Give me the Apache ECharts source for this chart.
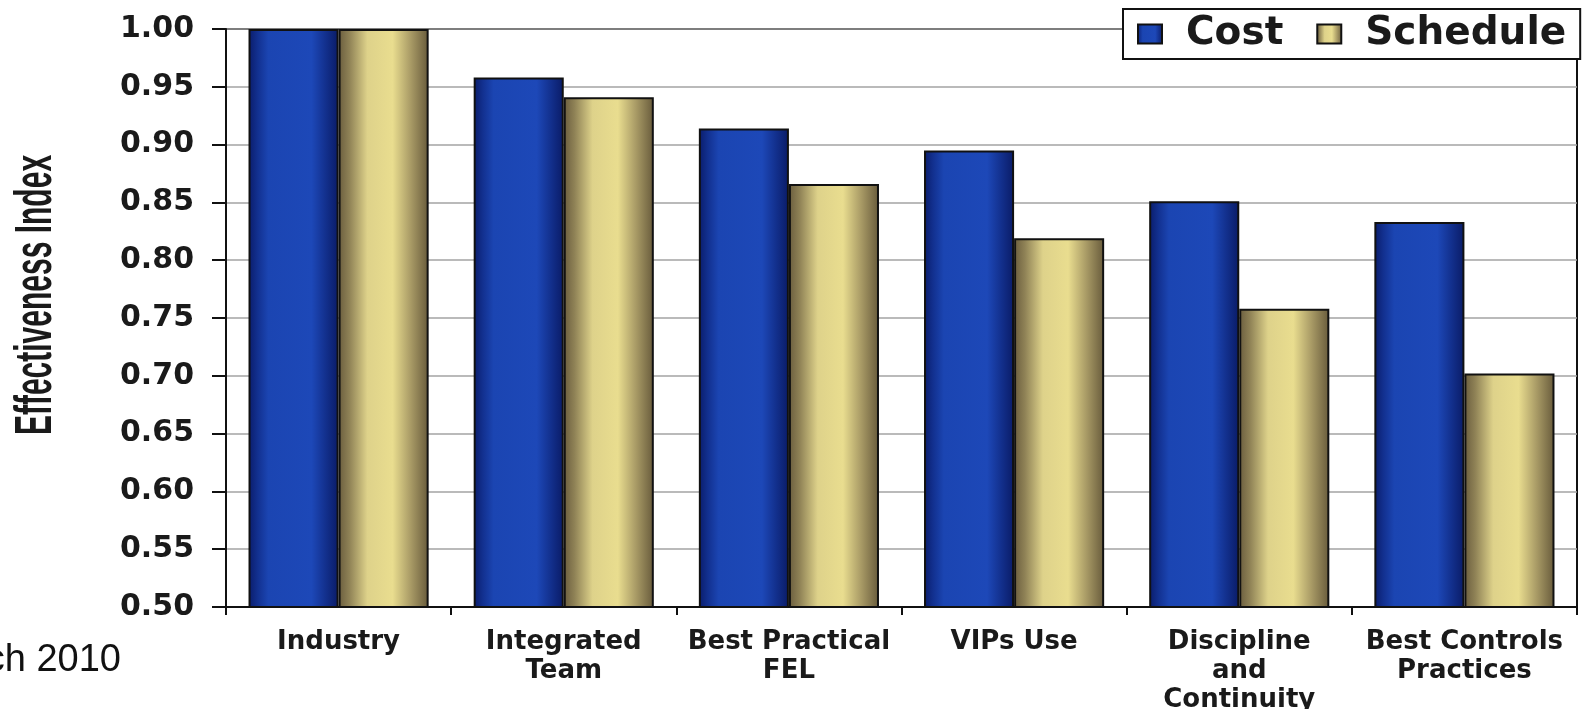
<!DOCTYPE html>
<html>
<head>
<meta charset="utf-8">
<script src="https://cdn.jsdelivr.net/npm/echarts@6/dist/echarts.min.js"></script>
<style>
  html, body { margin: 0; padding: 0; background: #fff; }
  #chart { width: 1593px; height: 709px; }
</style>
</head>
<body>
<div id="chart"></div>
<script>
// Effectiveness index by practice, cost vs schedule
const categories = ['Industry', 'Integrated\nTeam', 'Best Practical\nFEL', 'VIPs Use', 'Discipline\nand\nContinuity', 'Best Controls\nPractices'];
const costValues = [1.00, 0.958, 0.914, 0.895, 0.851, 0.833];
const scheduleValues = [1.00, 0.941, 0.866, 0.819, 0.758, 0.702];
const yTicks = { min: 0.5, max: 1.0, step: 0.05 };

const blueFill = new echarts.graphic.LinearGradient(0, 0, 1, 0, [
  { offset: 0, color: '#0a1c6a' },
  { offset: 0.1, color: '#12308f' },
  { offset: 0.22, color: '#1b45b2' },
  { offset: 0.7, color: '#1d48b8' },
  { offset: 0.85, color: '#13318f' },
  { offset: 1, color: '#0a1b66' }
]);
const goldFill = new echarts.graphic.LinearGradient(0, 0, 1, 0, [
  { offset: 0, color: '#6a5d3e' },
  { offset: 0.12, color: '#8f8256' },
  { offset: 0.32, color: '#ded28a' },
  { offset: 0.6, color: '#e9dd8f' },
  { offset: 0.8, color: '#a99b66' },
  { offset: 1, color: '#675a3b' }
]);

const chart = echarts.init(document.getElementById('chart'));
chart.setOption({
  animation: false,
  backgroundColor: '#fff',
  grid: {
    left: 226, right: 16, top: 29, bottom: 102,
    containLabel: false, outerBoundsMode: 'none',
    show: true, borderColor: '#111', borderWidth: 2, backgroundColor: 'transparent'
  },
  legend: {
    left: 1123, top: 9,
    backgroundColor: '#fff',
    borderColor: '#111', borderWidth: 2,
    padding: [5, 14, 5, 14],
    itemWidth: 24, itemHeight: 19, itemGap: 33,
    icon: 'rect',
    textStyle: {
      fontFamily: 'DejaVu Sans', fontWeight: 'bold', fontSize: 39,
      color: '#1a1a1a', lineHeight: 40, padding: [0, 0, 0, 19]
    },
    data: ['Cost', 'Schedule']
  },
  xAxis: {
    type: 'category',
    data: categories,
    axisLine: { lineStyle: { color: '#111', width: 2 } },
    axisTick: { show: true, length: 8, lineStyle: { color: '#111', width: 2 } },
    axisLabel: {
      interval: 0, margin: 21,
      fontFamily: 'DejaVu Sans', fontWeight: 'bold', fontSize: 26,
      lineHeight: 29, color: '#1a1a1a'
    },
    splitLine: { show: false }
  },
  yAxis: {
    type: 'value',
    min: yTicks.min, max: yTicks.max, interval: yTicks.step,
    axisLine: { show: true, lineStyle: { color: '#111', width: 2 } },
    axisTick: { show: true, inside: false, length: 14, lineStyle: { color: '#111', width: 2 } },
    axisLabel: {
      margin: 32,
      fontFamily: 'DejaVu Sans', fontWeight: 'bold', fontSize: 30,
      color: '#1a1a1a',
      formatter: v => v.toFixed(2)
    },
    splitLine: { show: true, lineStyle: { color: '#a3a3a3', width: 1.5 } }
  },
  series: [
    {
      name: 'Cost', type: 'bar', data: costValues,
      barGap: '0%', barCategoryGap: '20%',
      itemStyle: { color: blueFill, borderColor: '#111', borderWidth: 2 }
    },
    {
      name: 'Schedule', type: 'bar', data: scheduleValues,
      barGap: '0%', barCategoryGap: '20%',
      itemStyle: { color: goldFill, borderColor: '#111', borderWidth: 2 }
    }
  ],
  graphic: [
    {
      type: 'text', x: 37, y: 295, rotation: Math.PI / 2, scaleY: 1.7,
      style: {
        text: 'Effectiveness Index',
        font: 'bold 30px "Liberation Sans", Arial, sans-serif',
        fill: '#1a1a1a', align: 'center', verticalAlign: 'middle'
      }
    },
    {
      type: 'text', x: 121, y: 661,
      style: {
        text: 'March 2010',
        font: '38px "Liberation Sans", Arial, sans-serif',
        fill: '#111', align: 'right', verticalAlign: 'middle'
      }
    }
  ]
});
</script>
</body>
</html>
